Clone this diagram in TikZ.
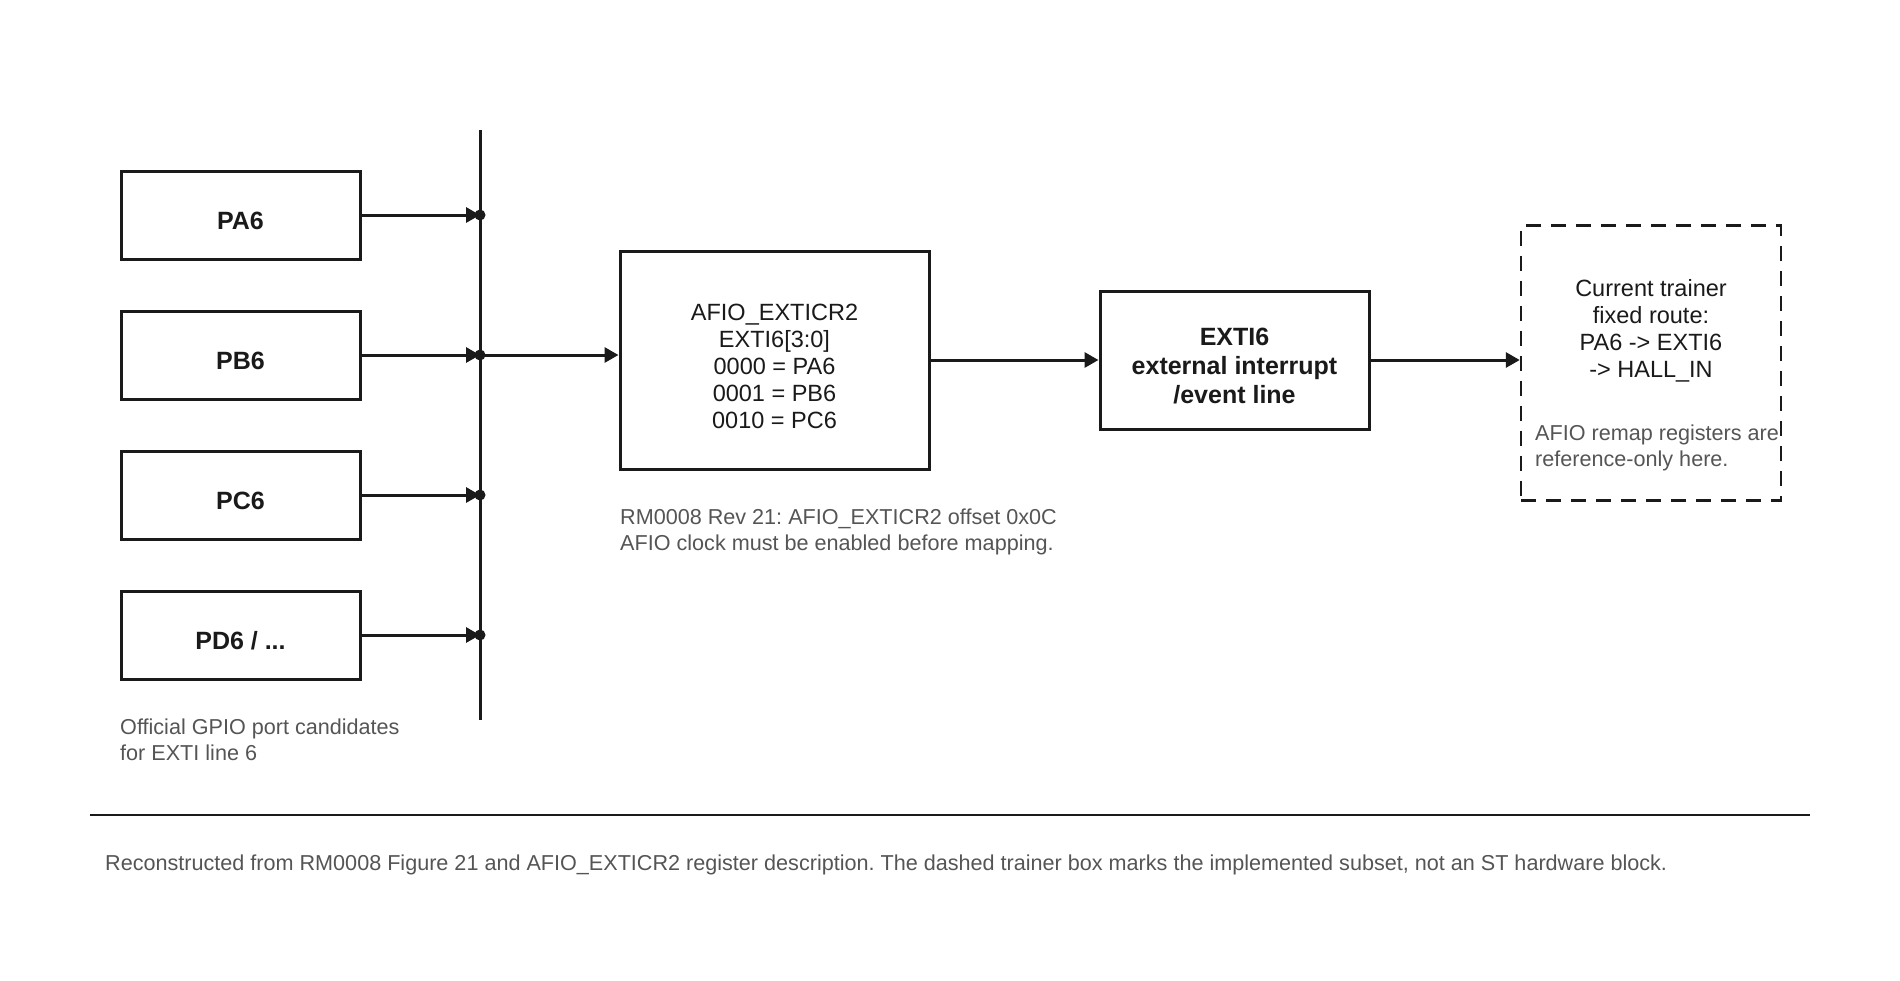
\documentclass[tikz,border=0pt]{standalone}
\usepackage{fontspec}
\setmainfont{Liberation Sans}
\usetikzlibrary{arrows.meta}
\frenchspacing
\definecolor{ink}{HTML}{1A1A1A}
\definecolor{note}{HTML}{555555}
\tikzset{
  box/.style={draw=ink, line width=3pt, rectangle, inner sep=0pt},
  boldtext/.style={text=ink, font=\bfseries\fontsize{25}{29}\selectfont, align=center},
  regtext/.style={text=ink, font=\fontsize{23.5}{27}\selectfont, align=center},
  boxlabel/.style 2 args={label={[#1, yshift=-6pt]center:{#2}}},
  portbox/.style={box, minimum width=239pt, minimum height=88pt, boxlabel={boldtext}{#1}},
  wire/.style={draw=ink, line width=3pt},
  arr/.style={wire, -{Triangle[length=14pt,width=15pt]}},
  junction/.style={circle, fill=ink, inner sep=0pt, minimum size=11pt},
  notetext/.style={text=note, inner sep=0pt, font=\fontsize{21.6}{25.2}\selectfont, align=left},
}
\begin{document}
\begin{tikzpicture}[x=1pt,y=-1pt]
\useasboundingbox[fill=white] (0,0) rectangle (1900,980);

% port boxes
\node[portbox={PA6}] (pa6) at (240.5,215) {};
\node[portbox={PB6}] (pb6) at (240.5,355) {};
\node[portbox={PC6}] (pc6) at (240.5,495) {};
\node[portbox={PD6 / ...}] (pd6) at (240.5,635) {};

% bus
\coordinate (bt) at (480,130);
\coordinate (bb) at (480,720);
\draw[wire] (bt) -- (bb);

\node[junction] (ja) at (480,215) {};
\node[junction] (jb) at (480,355) {};
\node[junction] (jc) at (480,495) {};
\node[junction] (jd) at (480,635) {};

% AFIO register box
\node[box, minimum width=309pt, minimum height=218pt,
      boxlabel={regtext}{AFIO\_EXTICR2\\EXTI6[3:0]\\0000 = PA6\\0001 = PB6\\0010 = PC6}]
      (afio) at (774.5,360) {};

% EXTI6 box
\node[box, minimum width=269pt, minimum height=138pt,
      boxlabel={boldtext}{EXTI6\\external interrupt\\/event line}]
      (exti) at (1234.5,360) {};

% trainer dashed box
\node[draw=ink, line width=2.5pt, dash pattern=on 15pt off 10pt, rectangle,
      minimum width=260pt, minimum height=275pt, inner sep=0pt] (trainer) at (1651,363) {};
\node[regtext, inner sep=0pt] (route) at (1651,330.5)
  {Current trainer\\fixed route:\\PA6 -> EXTI6\\-> HALL\_IN};
\node[notetext, anchor=north west] (remap) at (1535,425)
  {AFIO remap registers are\\reference-only here.};

% connectors
\draw[arr] (pa6.east) -- (ja.center);
\draw[arr] (pb6.east) -- (jb.center);
\draw[arr] (pc6.east) -- (jc.center);
\draw[arr] (pd6.east) -- (jd.center);
\draw[arr] (jb.center) -- (jb -| afio.west);
\draw[arr] (afio.east) -- (exti.west);
\draw[arr] (exti.east) -- (exti.east -| trainer.west);

% notes
\node[notetext, anchor=north west] (afionote) at (620,509)
  {RM0008 Rev 21: AFIO\_EXTICR2 offset 0x0C\\AFIO clock must be enabled before mapping.};
\node[notetext, anchor=north west] (portnote) at (120,719)
  {Official GPIO port candidates\\for EXTI line 6};

% rule and footer
\coordinate (rl) at (90,815);
\coordinate (rr) at (1810,815);
\draw[draw=ink, line width=2.5pt] (rl) -- (rr);
\node[notetext, anchor=north west] (footer) at (105,855)
  {Reconstructed from RM0008 Figure 21 and AFIO\_EXTICR2 register description. The dashed trainer box marks the implemented subset, not an ST hardware block.};
\end{tikzpicture}
\end{document}
